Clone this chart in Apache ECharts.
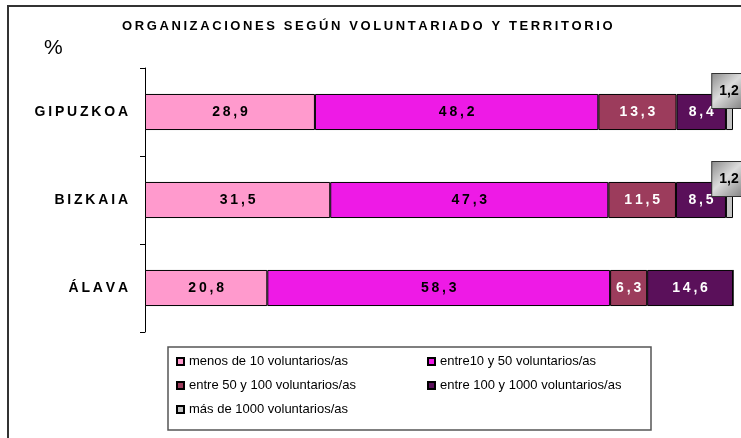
<!DOCTYPE html>
<html lang="es">
<head>
    <meta charset="UTF-8">
    <title>Organizaciones según voluntariado y territorio</title>
    <script src="https://cdn.jsdelivr.net/npm/echarts@6/dist/echarts.min.js"></script>
    <style>
        html, body { margin: 0; padding: 0; background: #fff; }
    </style>
</head>
<body>
    <div id="main" style="width: 741px; height: 438px;"></div>
    <script>
        // data
        var categories = ['GIPUZKOA', 'BIZKAIA', 'ÁLAVA'];
        var seriesNames = [
            'menos de 10 voluntarios/as',
            'entre10 y 50 voluntarios/as',
            'entre 50 y 100 voluntarios/as',
            'entre 100 y 1000 voluntarios/as',
            'más de 1000 voluntarios/as'
        ];
        var menos10 = [28.9, 31.5, 20.8];
        var entre10y50 = [48.2, 47.3, 58.3];
        var entre50y100 = [13.3, 11.5, 6.3];
        var entre100y1000 = [8.4, 8.5, 14.6];
        var mas1000 = [1.2, 1.2, 0];

        var colors = ['#ff9acd', '#ee1ae6', '#9c3c5c', '#5a105a', '#c4c4c4'];
        var labelColors = ['#000', '#000', '#fff', '#fff', '#000'];
        var font = 'Liberation Sans, Arial, sans-serif';

        // imitate the wide letter spacing of the original
        function spaced(s) {
            return s.split('').join('\u2009');
        }
        function fmt(v) {
            return v.toFixed(1).replace('.', ',');
        }

        var myChart = echarts.init(document.getElementById('main'));

        var values = [menos10, entre10y50, entre50y100, entre100y1000, mas1000];
        var series = values.map(function (data, i) {
            var label = {
                show: true,
                position: 'inside',
                color: labelColors[i],
                fontFamily: font,
                fontSize: 14,
                fontWeight: 'bold',
                formatter: function (p) { return spaced(fmt(p.value)); }
            };
            if (i === 4) {
                // the small share gets a callout box above the bar end
                label = {
                    show: true,
                    position: 'inside',
                    offset: [-1, -21],
                    color: '#000',
                    fontFamily: font,
                    fontSize: 14,
                    fontWeight: 'bold',
                    padding: [10, 6, 10, 7],
                    borderColor: '#333',
                    borderWidth: 1,
                    backgroundColor: new echarts.graphic.LinearGradient(0, 0, 1, 1, [
                        { offset: 0, color: '#8a8a8a' },
                        { offset: 0.45, color: '#dcdcdc' },
                        { offset: 1, color: '#7a7a7a' }
                    ]),
                    formatter: function (p) { return fmt(p.value); }
                };
            }
            return {
                name: seriesNames[i],
                type: 'bar',
                stack: 'total',
                barWidth: '41%',
                data: data.map(function (v) {
                    return v > 0 ? v : { value: v, label: { show: false } };
                }),
                itemStyle: {
                    color: colors[i],
                    borderColor: '#000',
                    borderWidth: 1
                },
                label: label,
                emphasis: { disabled: true }
            };
        });

        var legendPos = [
            [176, 355], [427, 355],
            [176, 379], [427, 379],
            [176, 403]
        ];
        var legends = seriesNames.map(function (name, i) {
            return {
                data: [name],
                left: legendPos[i][0],
                top: legendPos[i][1],
                padding: 0,
                icon: 'rect',
                itemWidth: 7,
                itemHeight: 7,
                selectedMode: false,
                textStyle: { color: '#000', fontFamily: font, fontSize: 13 }
            };
        });

        var option = {
            backgroundColor: '#fff',
            animation: false,
            title: [
                {
                    text: spaced('ORGANIZACIONES SEGÚN VOLUNTARIADO Y TERRITORIO'),
                    left: 122,
                    top: 20,
                    padding: 0,
                    textStyle: { color: '#000', fontFamily: font, fontSize: 13, fontWeight: 'bold' }
                },
                {
                    text: '%',
                    left: 44,
                    top: 38,
                    padding: 0,
                    textStyle: { color: '#000', fontFamily: font, fontSize: 21, fontWeight: 'normal' }
                }
            ],
            legend: legends,
            grid: {
                left: 145,
                right: 8,
                top: 68,
                bottom: 106
            },
            xAxis: {
                type: 'value',
                min: 0,
                max: 100,
                show: false
            },
            yAxis: {
                type: 'category',
                data: categories,
                inverse: true,
                axisLine: { lineStyle: { color: '#000', width: 1 } },
                axisTick: { show: true, length: 5, lineStyle: { color: '#000' } },
                axisLabel: {
                    margin: 17,
                    color: '#000',
                    fontFamily: font,
                    fontSize: 14,
                    fontWeight: 'bold',
                    formatter: function (v) { return spaced(v); }
                },
                splitLine: { show: false }
            },
            graphic: [
                {
                    type: 'rect',
                    shape: { x: 8, y: 6, width: 900, height: 600 },
                    style: { fill: 'none', stroke: '#333', lineWidth: 2 },
                    silent: true
                },
                {
                    type: 'rect',
                    shape: { x: 168, y: 347, width: 483, height: 83 },
                    style: { fill: 'none', stroke: '#555', lineWidth: 1.5 },
                    silent: true
                }
            ],
            series: series
        };

        myChart.setOption(option);
    </script>
</body>
</html>
